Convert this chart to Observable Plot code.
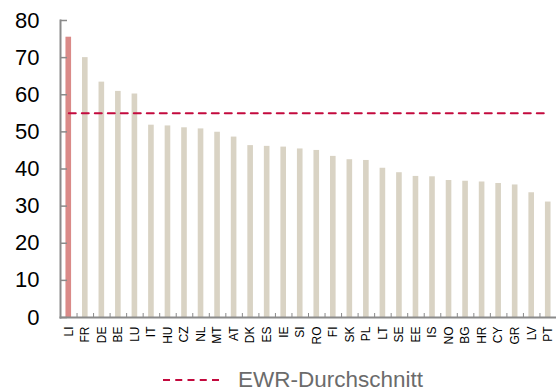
<!DOCTYPE html>
<html>
<head>
<meta charset="utf-8">
<script src="https://cdn.jsdelivr.net/npm/d3@7"></script>
<script src="https://cdn.jsdelivr.net/npm/@observablehq/plot@0.6"></script>
<style>
  html, body { margin: 0; padding: 0; background: #fff; overflow: hidden; }
  body { width: 556px; font-family: "Liberation Sans", Arial, sans-serif; }
  #chart svg { max-width: none; display: block; }
  #legend { display: flex; align-items: center; margin-left: 163px; margin-top: 13px; height: 30px; color: #6b6b6b; font-size: 22.5px; }
  #legend svg { margin-right: 15px; }
</style>
</head>
<body>
<div id="chart"></div>
<div id="legend"></div>
<script>
// Countries, sorted by value
const countries = ["LI","FR","DE","BE","LU","IT","HU","CZ","NL","MT","AT","DK","ES","IE","SI","RO","FI","SK","PL","LT","SE","EE","IS","NO","BG","HR","CY","GR","LV","PT"];
const values = [75.5,70.0,63.4,60.9,60.2,51.8,51.6,51.1,50.8,49.9,48.6,46.3,46.1,45.9,45.4,45.0,43.4,42.5,42.3,40.2,39.0,38.0,37.9,36.9,36.7,36.5,36.1,35.7,33.6,31.1];
// EEA average
const averageLabel = "EWR-Durchschnitt";
const averageValue = 55;
const highlighted = "LI";
const yTicks = [0,10,20,30,40,50,60,70,80];

const data = countries.map((c, i) => ({country: c, value: values[i]}));
const avgLine = countries.map(c => ({country: c, value: averageValue}));

const width = 556, marginLeft = 60, marginRight = 0;
const step = (width - marginLeft - marginRight) / countries.length;
const axisGrey = "#8a8a8a";
const red = "#c30a3e";

const chart = Plot.plot({
  width,
  height: 352,
  marginLeft,
  marginRight,
  marginTop: 20,
  marginBottom: 35,
  style: {fontFamily: "'Liberation Sans', Arial, sans-serif", color: "#000", background: "#fff"},
  x: {type: "band", domain: countries, paddingInner: 0.66, paddingOuter: 0.33, round: false, label: null},
  y: {domain: [0, 80], label: null},
  marks: [
    Plot.barY(data, {x: "country", y: "value", fill: d => d.country === highlighted ? "#da8a88" : "#d9d3c4"}),
    Plot.lineY(avgLine, {x: "country", y: "value", stroke: red, strokeWidth: 2, strokeDasharray: "7,6"}),
    Plot.frame({anchor: "left", stroke: axisGrey, strokeWidth: 2}),
    Plot.frame({anchor: "bottom", stroke: axisGrey, strokeWidth: 2}),
    Plot.axisY({ticks: yTicks, tickSize: 0, tickPadding: 21, fontSize: 22, fill: "#000"}),
    Plot.axisY({ticks: yTicks, text: null, tickSize: 7, dx: 7, stroke: axisGrey, strokeWidth: 1.5}),
    Plot.axisX({text: null, tickSize: 4, dx: step / 2, dy: -4, stroke: axisGrey}),
    Plot.axisX({tickSize: 0, tickPadding: 9, tickRotate: -90, fontSize: 12, fill: "#000"})
  ]
});
document.getElementById("chart").append(chart);

// Legend below the chart
const legend = document.getElementById("legend");
legend.innerHTML = `<svg width="60" height="10"><line x1="0" x2="60" y1="5" y2="5" stroke="${red}" stroke-width="2" stroke-dasharray="7,5.25"/></svg><span>${averageLabel}</span>`;
</script>
</body>
</html>
